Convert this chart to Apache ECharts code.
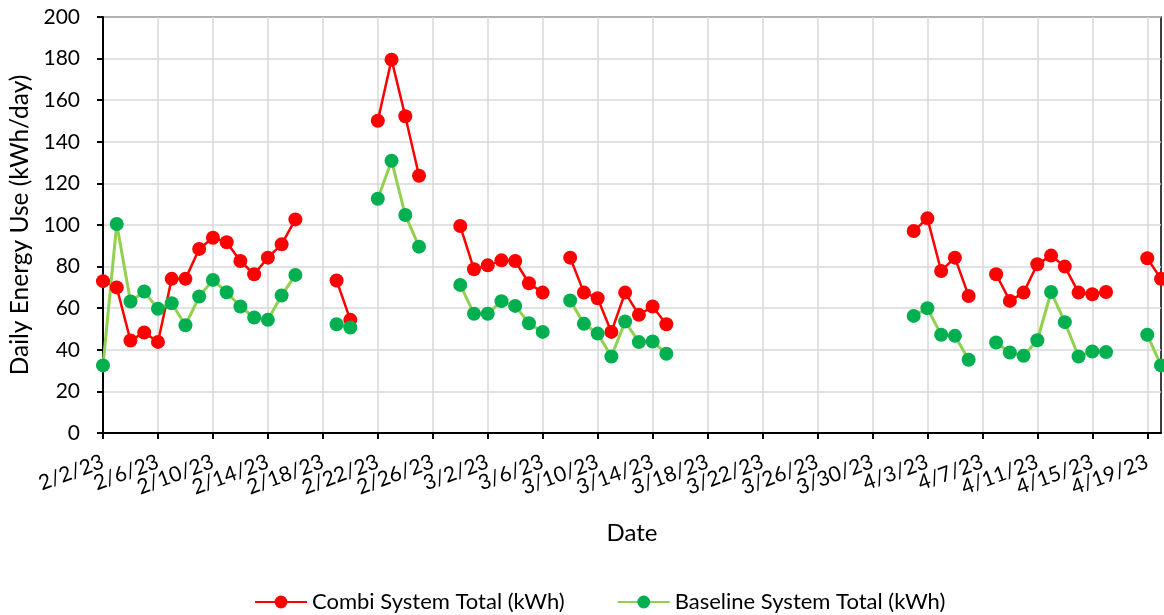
<!DOCTYPE html>
<html>
<head>
<meta charset="utf-8">
<script src="https://cdn.jsdelivr.net/npm/echarts@6/dist/echarts.min.js"></script>
<style>
html,body{margin:0;padding:0;background:#fff;}
#chart{width:1164px;height:615px;}
</style>
</head>
<body>
<div id="chart"></div>
<script>
// Axis range (every day is one category)
const startDate = '2023-02-02';
const endDate = '2023-04-20';

// Measured days (M/D/YY)
const measuredDates = [
  '2/2/23','2/3/23','2/4/23','2/5/23','2/6/23','2/7/23','2/8/23','2/9/23','2/10/23','2/11/23',
  '2/12/23','2/13/23','2/14/23','2/15/23','2/16/23',
  '2/19/23','2/20/23',
  '2/22/23','2/23/23','2/24/23','2/25/23',
  '2/28/23','3/1/23','3/2/23','3/3/23','3/4/23','3/5/23','3/6/23',
  '3/8/23','3/9/23','3/10/23','3/11/23','3/12/23','3/13/23','3/14/23','3/15/23',
  '4/2/23','4/3/23','4/4/23','4/5/23','4/6/23',
  '4/8/23','4/9/23','4/10/23','4/11/23','4/12/23','4/13/23','4/14/23','4/15/23','4/16/23',
  '4/19/23','4/20/23'
];

const combiTotal = [
  73, 70, 44.5, 48.3, 43.8, 74.1, 74.1, 88.5, 93.9, 91.7,
  82.7, 76.3, 84.3, 90.7, 102.7,
  73.3, 54.4,
  150.1, 179.5, 152.3, 123.7,
  99.5, 78.7, 80.6, 83, 82.7, 72, 67.5,
  84.3, 67.5, 64.8, 48.6, 67.5, 56.8, 60.8, 52.3,
  97.1, 103.2, 77.9, 84.3, 65.9,
  76.3, 63.5, 67.5, 81.1, 85.3, 80, 67.5, 66.7, 67.8,
  84, 74.1
];

const baselineTotal = [
  32.5, 100.5, 63.2, 68, 59.7, 62.4, 51.8, 65.6, 73.6, 67.7,
  60.8, 55.5, 54.4, 66.1, 76,
  52.3, 50.7,
  112.6, 130.9, 104.8, 89.6,
  71.2, 57.3, 57.3, 63.4, 61.1, 52.8, 48.6,
  63.7, 52.5, 47.8, 36.8, 53.6, 43.7, 44, 38.1,
  56.3, 60, 47.2, 46.7, 35.2,
  43.5, 38.7, 37.1, 44.6, 67.8, 53.3, 36.8, 39.2, 38.9,
  47.2, 32.5
];

// Tick labels on the date axis
const xTickLabels = ['2/2/23','2/6/23','2/10/23','2/14/23','2/18/23','2/22/23','2/26/23','3/2/23','3/6/23','3/10/23',
  '3/14/23','3/18/23','3/22/23','3/26/23','3/30/23','4/3/23','4/7/23','4/11/23','4/15/23','4/19/23'];

const seriesNames = ['Combi System Total (kWh)', 'Baseline System Total (kWh)'];
const yTicks = {min: 0, max: 200, step: 20};
const labelEvery = 4; // days between x ticks

// Build the daily category list
function fmt(d){ return (d.getUTCMonth()+1) + '/' + d.getUTCDate() + '/' + String(d.getUTCFullYear()).slice(2); }
const categories = [];
for (let t = Date.parse(startDate + 'T00:00:00Z'); t <= Date.parse(endDate + 'T00:00:00Z'); t += 86400000) {
  categories.push(fmt(new Date(t)));
}
function align(vals){
  const m = {};
  measuredDates.forEach((d, i) => { m[d] = vals[i]; });
  return categories.map(c => (c in m ? m[c] : null));
}
const every = (idx) => idx % labelEvery === 0;

const FONT = 'Lato';
const LABEL_ROT = 20 * Math.PI / 180;
const chart = echarts.init(document.getElementById('chart'), null, {renderer: 'canvas'});
chart.setOption({
  animation: false,
  backgroundColor: '#ffffff',
  textStyle: {fontFamily: FONT, color: '#000'},
  grid: {left: 103, right: 3, top: 17, bottom: 182, show: true, borderColor: '#000', borderWidth: 1.5,
         containLabel: false, outerBoundsMode: 'none'},
  legend: {
    top: 586, left: 249, itemWidth: 52, itemHeight: 16, itemGap: 52,
    textStyle: {fontFamily: FONT, fontSize: 22, color: '#000'},
    data: seriesNames
  },
  xAxis: {
    type: 'category', data: categories, boundaryGap: false,
    name: 'Date', nameLocation: 'middle', nameGap: 88,
    nameTextStyle: {fontFamily: FONT, fontSize: 24, color: '#000'},
    axisLine: {lineStyle: {color: '#000', width: 2}},
    axisTick: {show: true, interval: every, length: 6, inside: false, lineStyle: {color: '#000', width: 2}},
    splitLine: {show: true, interval: every, lineStyle: {color: '#d9d9d9', width: 1.5}},
    axisLabel: {show: false}
  },
  yAxis: {
    type: 'value', min: yTicks.min, max: yTicks.max, interval: yTicks.step,
    name: 'Daily Energy Use (kWh/day)', nameLocation: 'middle', nameGap: 68,
    nameTextStyle: {fontFamily: FONT, fontSize: 24.5, color: '#000'},
    axisLine: {show: true, lineStyle: {color: '#000', width: 2}},
    axisTick: {show: true, length: 6, lineStyle: {color: '#000', width: 2}},
    splitLine: {show: true, lineStyle: {color: '#d9d9d9', width: 1.5}},
    axisLabel: {margin: 23, fontFamily: FONT, fontSize: 21, color: '#000'}
  },
  series: [
    {
      name: seriesNames[0], type: 'line', data: align(combiTotal),
      connectNulls: false, symbol: 'circle', symbolSize: 14, showSymbol: true, showAllSymbol: true,
      itemStyle: {color: '#ff0000'},
      lineStyle: {color: '#ff0000', width: 2.5}
    },
    {
      name: seriesNames[1], type: 'line', data: align(baselineTotal),
      connectNulls: false, symbol: 'circle', symbolSize: 14, showSymbol: true, showAllSymbol: true,
      itemStyle: {color: '#00b050'},
      lineStyle: {color: '#92d050', width: 3}
    },
    {
      // rotated date tick labels, placed through the category axis scale
      name: 'xTickLabels', type: 'custom', silent: true, clip: false, z: 10,
      data: xTickLabels.map(l => [l, yTicks.min]),
      encode: {x: 0, y: 1},
      renderItem: function (params, api) {
        const pt = api.coord([api.value(0), yTicks.min]);
        return {
          type: 'text', x: pt[0], y: pt[1] + 28, rotation: LABEL_ROT,
          style: {text: xTickLabels[params.dataIndex], align: 'right', verticalAlign: 'middle',
                  font: '21px ' + FONT, fill: '#000'}
        };
      }
    }
  ]
});
</script>
</body>
</html>
